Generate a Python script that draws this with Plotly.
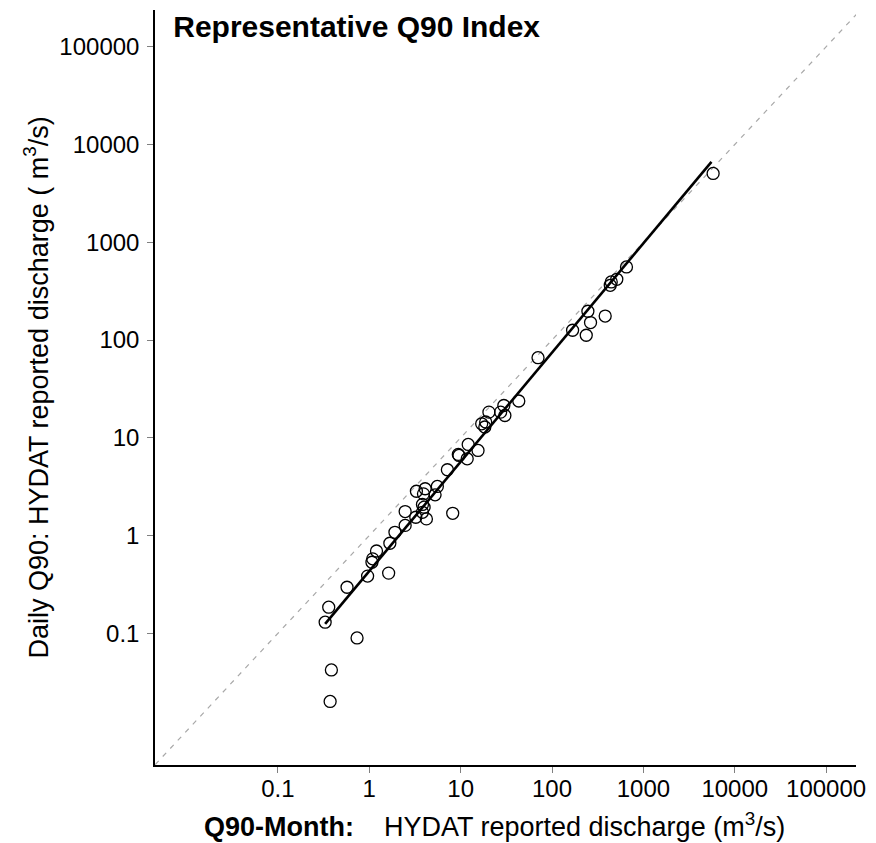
import plotly.graph_objects as go

# Observed points: Q90-Month (x) vs Daily Q90 (y), m3/s
q90_month = [0.373, 0.385, 0.329, 0.360, 0.571, 0.735, 0.959, 1.63, 1.07, 1.09,
             1.20, 1.68, 1.91, 2.47, 2.47, 3.23, 4.22, 3.82, 3.98, 3.82,
             3.28, 4.09, 3.92, 5.25, 5.56, 8.19, 7.16, 9.43, 9.6, 11.8,
             12.1, 15.5, 17.0, 18.8, 18.4, 20.4, 27.4, 29.7, 30.5, 43.3,
             70.3, 168, 237, 264, 247, 382, 434, 445, 512, 653, 5800]
q90_daily = [0.0201, 0.0422, 0.130, 0.185, 0.296, 0.0897, 0.385, 0.413, 0.533, 0.578,
             0.695, 0.834, 1.08, 1.27, 1.76, 1.54, 1.48, 1.73, 1.95, 2.08,
             2.84, 3.01, 2.67, 2.61, 3.18, 1.69, 4.71, 6.76, 6.6, 6.10,
             8.55, 7.42, 13.9, 14.5, 12.9, 18.3, 18.3, 21.4, 16.9, 23.8,
             66.0, 126, 112, 151, 197, 176, 363, 393, 418, 559, 5060]

# Fitted power-law line endpoints
fit_x = [0.329, 5560]
fit_y = [0.125, 6640]

# 1:1 reference line endpoints
ref_vals = [0.001, 1000000]

tick_vals = [0.1, 1, 10, 100, 1000, 10000, 100000]
tick_text = ["0.1", "1", "10", "100", "1000", "10000", "100000"]

x_title = "<b>Q90-Month:</b>\u00a0\u00a0\u00a0\u00a0HYDAT reported discharge (m<sup>3</sup>/s)"
y_title = "Daily Q90: HYDAT reported discharge ( m<sup>3</sup>/s)"
main_title = "<b>Representative Q90 Index</b>"

FONT = "Arial, Liberation Sans, Helvetica, sans-serif"

fig = go.Figure()
fig.add_trace(go.Scatter(x=ref_vals, y=ref_vals, mode="lines",
                         line=dict(color="#a8a8a8", width=1.2, dash="5px,6px"),
                         showlegend=False, hoverinfo="skip"))
fig.add_trace(go.Scatter(x=fit_x, y=fit_y, mode="lines",
                         line=dict(color="black", width=2.6),
                         showlegend=False))
fig.add_trace(go.Scatter(x=q90_month, y=q90_daily, mode="markers",
                         marker=dict(symbol="circle-open", size=12, color="black",
                                     line=dict(width=1.3, color="black")),
                         showlegend=False))

axis_common = dict(
    type="log", tickmode="array", tickvals=tick_vals, ticktext=tick_text,
    showgrid=False, zeroline=False, showline=True, linecolor="black", linewidth=1.5,
    ticks="outside", ticklen=6, tickwidth=1, tickcolor="#808080",
    tickfont=dict(family=FONT, size=24, color="black"),
    mirror=False,
)

fig.update_layout(
    width=876, height=843,
    margin=dict(l=155, r=18, t=10, b=78),
    paper_bgcolor="white", plot_bgcolor="white",
    title=dict(text=main_title,
               font=dict(family=FONT, size=30, color="black"),
               xref="paper", x=0.026, xanchor="left",
               yref="container", y=1 - 26 / 843, yanchor="middle"),
    xaxis=dict(range=[-2.345, 5.327], ticklabelstandoff=-5, **axis_common),
    yaxis=dict(range=[-2.347, 5.376], ticklabelstandoff=3, **axis_common),
    annotations=[
        dict(text=x_title, xref="paper", yref="paper", x=(495 - 155) / 703, y=0,
             xanchor="center", yanchor="middle", yshift=-60, showarrow=False,
             font=dict(family=FONT, size=27, color="black")),
        dict(text=y_title, xref="paper", yref="paper", x=0, y=0.5, textangle=-90,
             xanchor="center", yanchor="middle", xshift=-119, showarrow=False,
             font=dict(family=FONT, size=27, color="black")),
    ],
)

fig.write_html("out.html")
